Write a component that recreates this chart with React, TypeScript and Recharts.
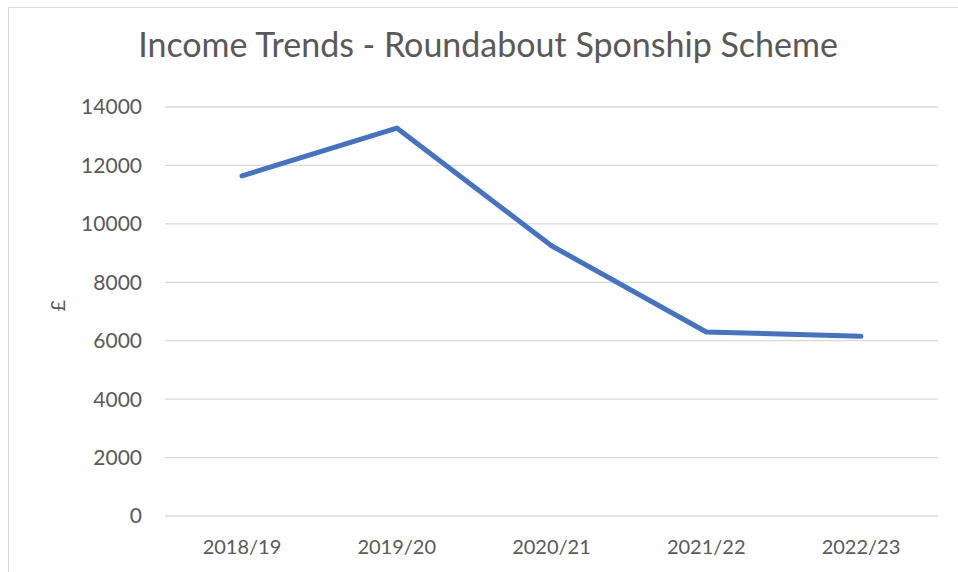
import React from 'react'
import { LineChart, Line, XAxis, YAxis, CartesianGrid } from 'recharts'

const years = ['2018/19', '2019/20', '2020/21', '2021/22', '2022/23']
const income = [11640, 13280, 9250, 6300, 6150]
const yTicks = [0, 2000, 4000, 6000, 8000, 10000, 12000, 14000]

const data = years.map((year, i) => ({ year, income: income[i] }))

const FONT = 'Lato, "Open Sans", sans-serif'
const TEXT = '#595959'

export default function App() {
  return (
    <div style={{ position: 'absolute', left: 0, top: 0, width: 958, height: 572, background: '#fff', overflow: 'hidden', fontFamily: FONT }}>
      {/* chart frame */}
      <div style={{ position: 'absolute', left: 8, top: 7, width: 980, height: 600, border: '1px solid #d9d9d9', boxSizing: 'border-box' }} />
      <div style={{ position: 'absolute', left: 0, width: 976, top: 22, textAlign: 'center', fontSize: 34, color: TEXT, lineHeight: '44px' }}>
        Income Trends - Roundabout Sponship Scheme
      </div>
      <LineChart
        width={958}
        height={572}
        data={data}
        margin={{ top: 107, right: 20, bottom: 16, left: 0 }}
        style={{ position: 'absolute', left: 0, top: 0 }}
      >
        <CartesianGrid vertical={false} stroke="#d9d9d9" strokeWidth={1.3} />
        <XAxis
          dataKey="year"
          axisLine={false}
          tickLine={false}
          tickSize={0}
          tickMargin={24}
          height={40}
          padding={{ left: 77, right: 77 }}
          tick={{ fontSize: 20, fill: TEXT, fontFamily: FONT }}
        />
        <YAxis
          domain={[0, 14000]}
          ticks={yTicks}
          width={165}
          axisLine={false}
          tickLine={false}
          tickSize={0}
          tickMargin={23}
          tick={{ fontSize: 21, fill: TEXT, fontFamily: FONT }}
          label={{ value: '£', angle: -90, position: 'insideLeft', offset: 58, fontSize: 20, fill: TEXT, fontFamily: FONT }}
        />
        <Line
          type="linear"
          dataKey="income"
          stroke="#4472c4"
          strokeWidth={5}
          strokeLinecap="round"
          strokeLinejoin="round"
          dot={false}
          activeDot={false}
          isAnimationActive={false}
        />
      </LineChart>
    </div>
  )
}
